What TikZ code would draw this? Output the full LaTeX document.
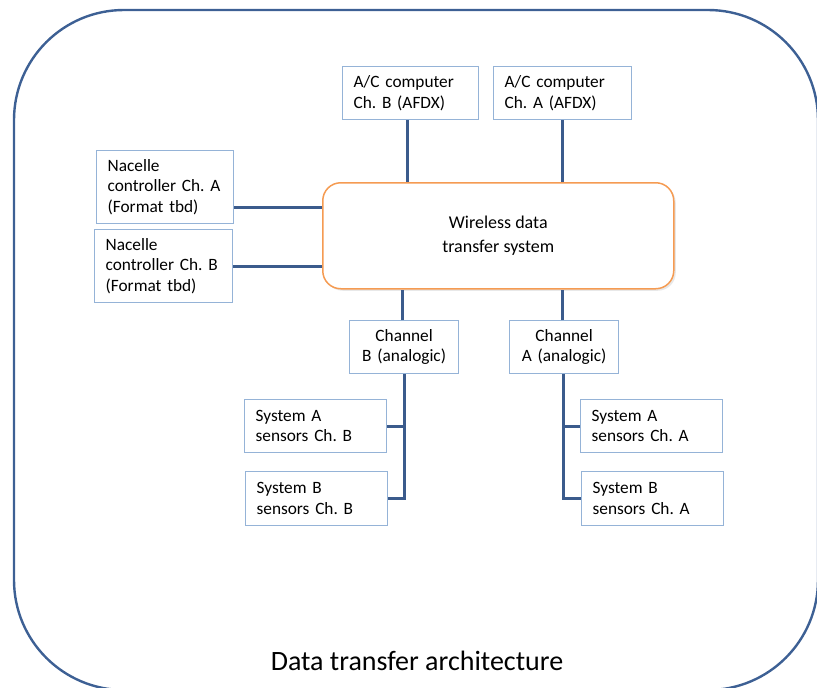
\documentclass[tikz,border=0pt]{standalone}
\usepackage{fontspec}
\setmainfont{Carlito}
\usetikzlibrary{calc,shadows}
\definecolor{frameblue}{HTML}{3D6094}
\definecolor{linkblue}{HTML}{3B5B8C}
\definecolor{boxblue}{HTML}{95B3D7}
\definecolor{coreorange}{HTML}{F59B52}
\tikzset{
  unit/.style={draw=boxblue, line width=1.3pt, fill=white, anchor=north west,
    inner xsep=11pt, inner ysep=0pt, align=left, font=\fontsize{17.3}{20.5}\selectfont},
  centred/.style={unit, align=center, inner xsep=0pt},
  core/.style={draw=coreorange, line width=1.5pt, fill=white, rounded corners=18pt,
    anchor=north west, align=center, inner sep=0pt,
    font=\fontsize{18}{24}\selectfont,
    drop shadow={shadow xshift=2pt, shadow yshift=-2pt, opacity=0.18}},
  link/.style={draw=linkblue, line width=2.8pt},
}
\frenchspacing
\begin{document}
\begin{tikzpicture}[x=1pt, y=-1pt]
\useasboundingbox (0,0) rectangle (817,688);
\clip (0,0) rectangle (817,688);
% surrounding frame
\draw[frameblue, line width=2.4pt, rounded corners=110pt] (14,10) rectangle (818,690);
\node[font=\fontsize{28}{32}\selectfont] (title) at (417,661) {Data transfer architecture};

% central system
\node[core, minimum width=351pt, minimum height=106pt] (wds) at (322,182)
  {Wireless data\\transfer system};

% aircraft computers
\node[unit, minimum width=136pt, minimum height=53pt, text width=114pt] (acB) at (342,66)
  {A/C computer\\Ch. B (AFDX)};
\node[unit, minimum width=138pt, minimum height=53pt, text width=116pt] (acA) at (493,66)
  {A/C computer\\Ch. A (AFDX)};

% nacelle controllers
\node[unit, minimum width=137pt, minimum height=73pt, text width=115pt] (nacA) at (96,150)
  {Nacelle\\\mbox{controller Ch.~A}\\(Format tbd)};
\node[unit, minimum width=138pt, minimum height=73pt, text width=116pt] (nacB) at (94,229)
  {Nacelle\\\mbox{controller Ch.~B}\\(Format tbd)};

% analogic channels
\node[centred, minimum width=109pt, minimum height=53pt, text width=109pt] (chB) at (349,320)
  {Channel\\B (analogic)};
\node[centred, minimum width=109pt, minimum height=53pt, text width=109pt] (chA) at (509,320)
  {Channel\\A (analogic)};

% sensor groups
\node[unit, minimum width=142pt, minimum height=53pt, text width=120pt] (sAB) at (244,399)
  {System A\\sensors Ch. B};
\node[unit, minimum width=142pt, minimum height=54pt, text width=120pt] (sBB) at (245,471)
  {System B\\sensors Ch. B};
\node[unit, minimum width=142pt, minimum height=53pt, text width=120pt] (sAA) at (580,399)
  {System A\\sensors Ch. A};
\node[unit, minimum width=142pt, minimum height=54pt, text width=120pt] (sBA) at (581,471)
  {System B\\sensors Ch. A};

% links to the central system
\draw[link] ([xshift=-3pt]acB.south) -- ([xshift=-3pt]acB.south |- wds.north);
\draw[link] (acA.south) -- (acA.south |- wds.north);
\draw[link] ([yshift=-20.5pt]nacA.east) -- ([yshift=-20.5pt]nacA.east -| wds.west);
\draw[link] (nacB.east) -- (nacB.east -| wds.west);
\draw[link] ([xshift=-1.5pt]chB.north) -- ([xshift=-1.5pt]chB.north |- wds.south);
\draw[link] ([xshift=-1.5pt]chA.north) -- ([xshift=-1.5pt]chA.north |- wds.south);

% sensor buses
\draw[link] (chB.south) -- (chB.south |- sBB.east) -- (sBB.east);
\draw[link] (sAB.east) -- (chB.south |- sAB.east);
\draw[link] ([xshift=-1pt]chA.south) -- ([xshift=-1pt]chA.south |- sBA.west) -- (sBA.west);
\draw[link] (sAA.west) -- ([xshift=-1pt]chA.south |- sAA.west);
\end{tikzpicture}
\end{document}
